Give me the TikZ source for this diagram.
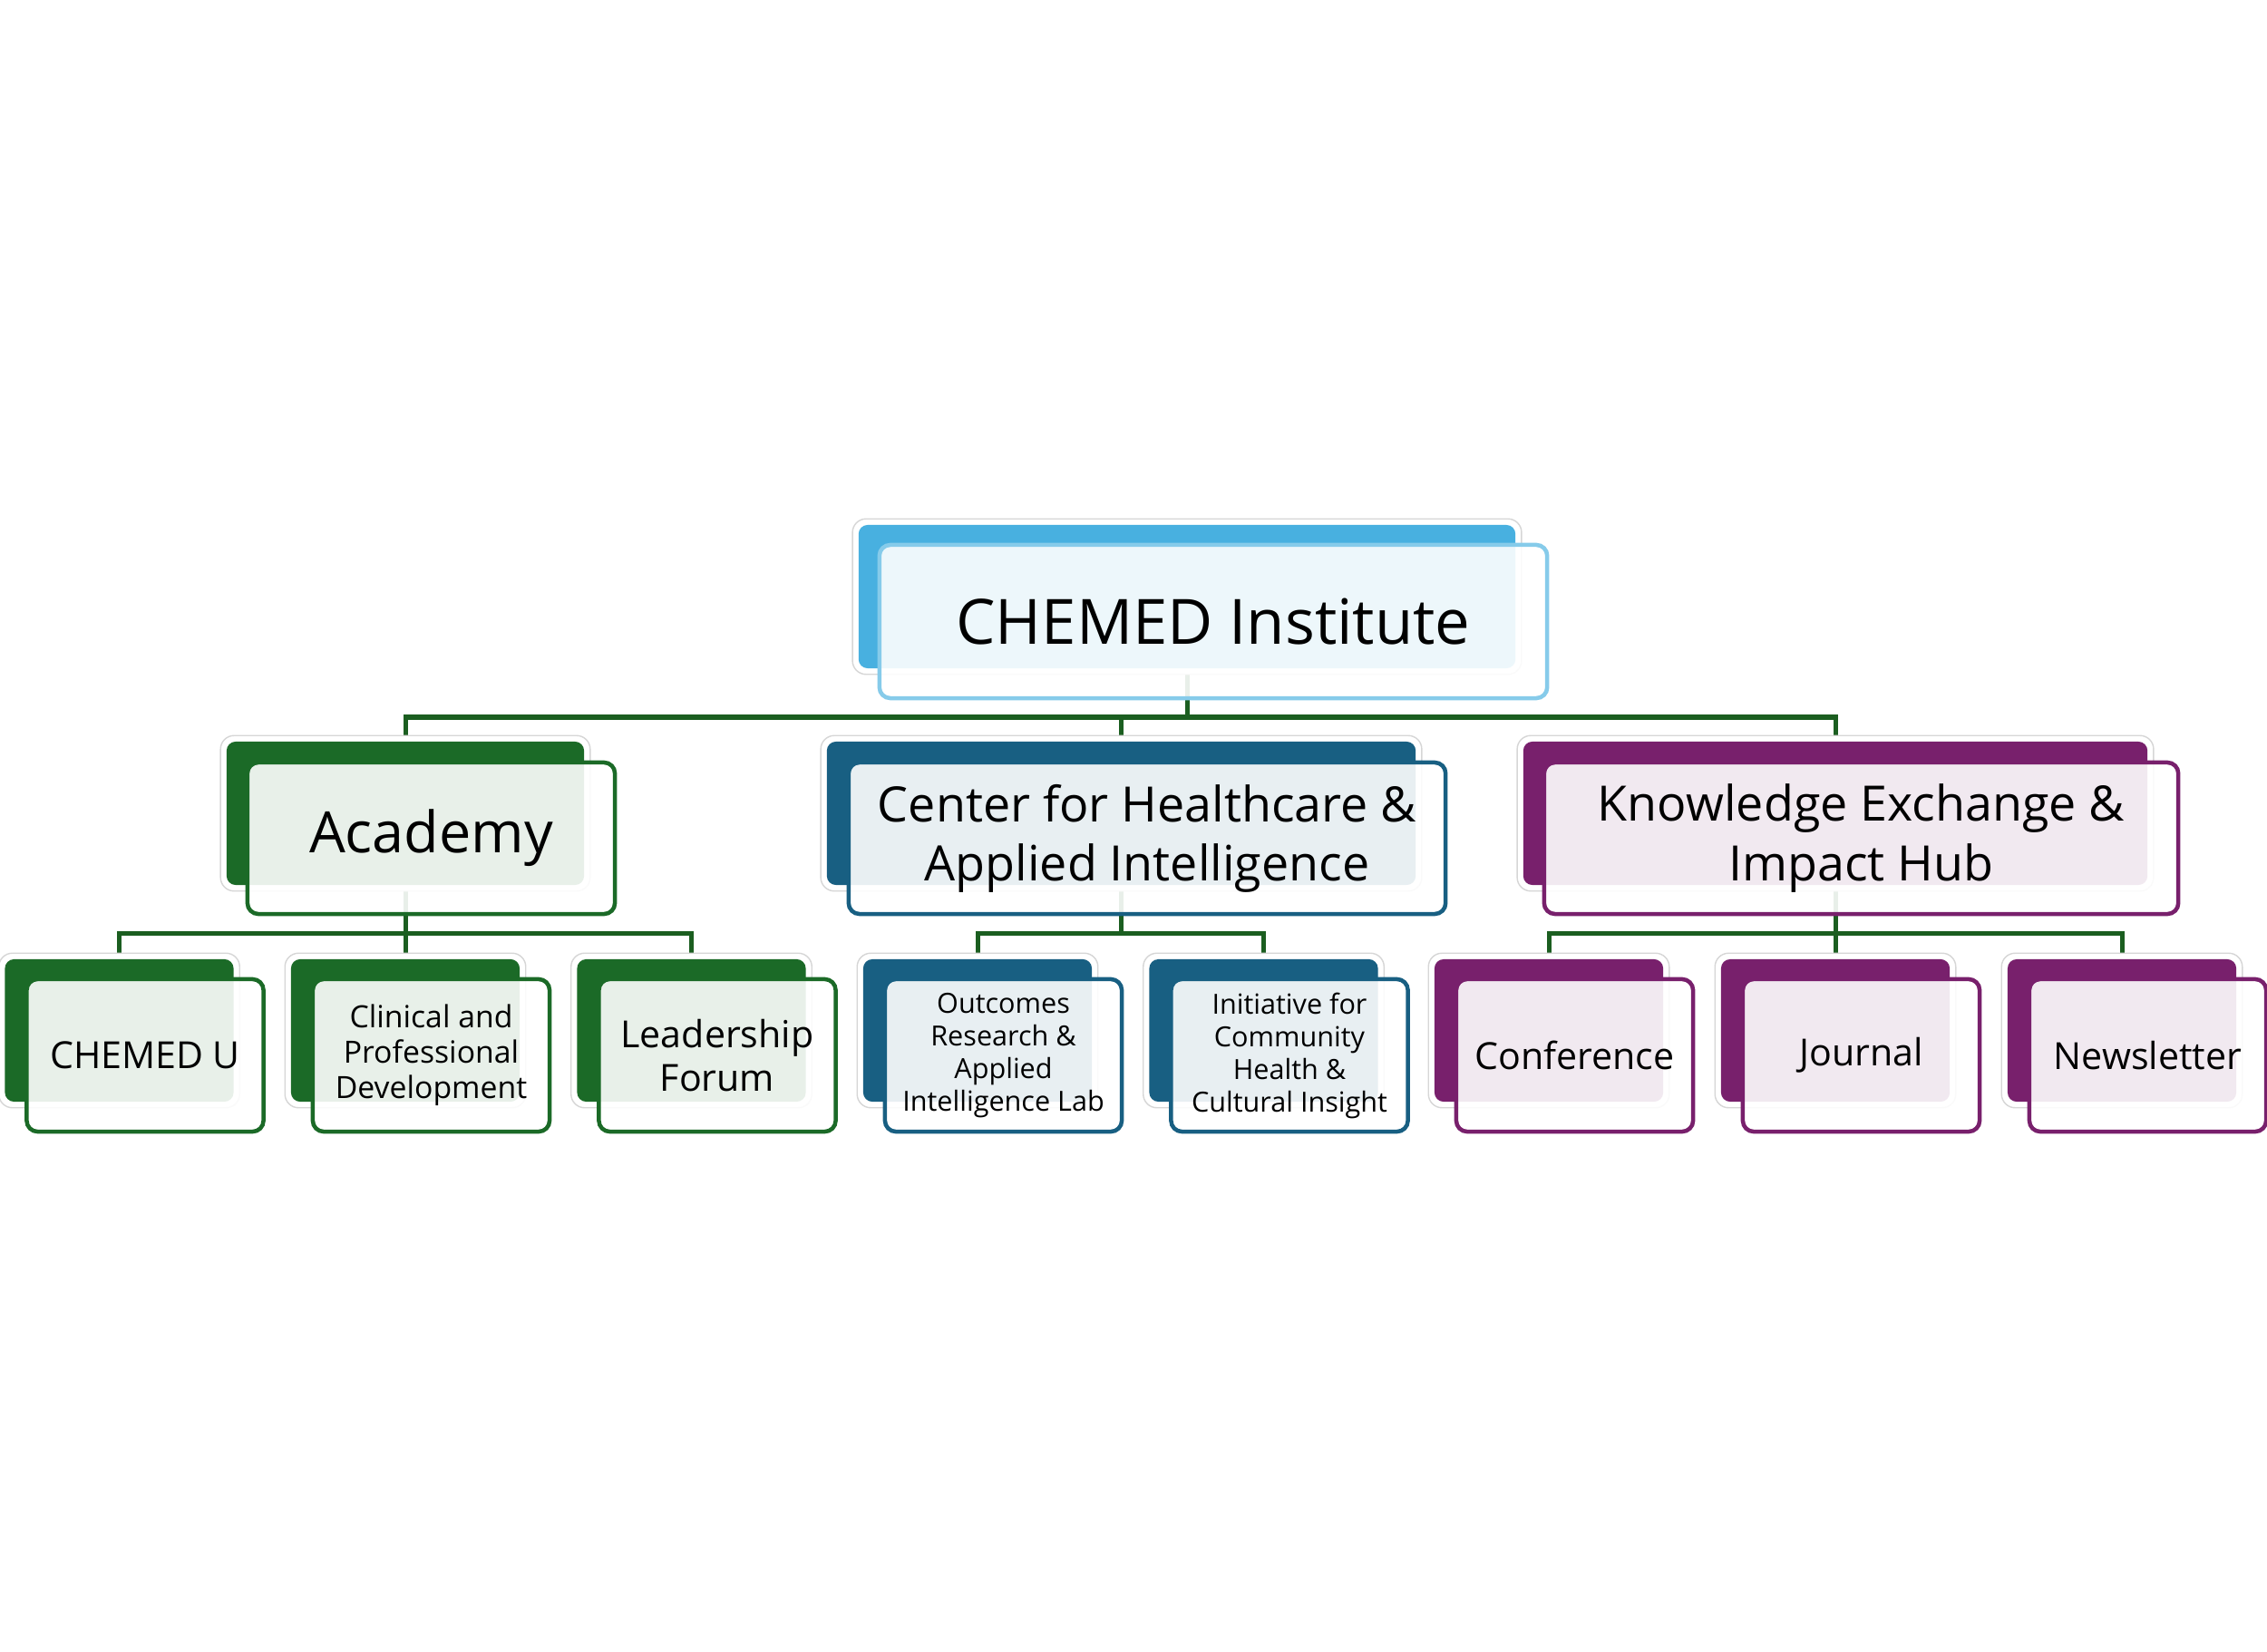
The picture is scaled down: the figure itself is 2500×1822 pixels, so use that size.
\documentclass[tikz,border=0pt]{standalone}
\usepackage{fontspec}
\setmainfont{Open Sans}
\usetikzlibrary{calc,backgrounds}
\definecolor{skyB}{RGB}{72,176,224}
\definecolor{skyF}{RGB}{134,203,234}
\definecolor{grnB}{RGB}{27,106,39}
\definecolor{grnC}{RGB}{27,94,32}
\definecolor{tealB}{RGB}{24,95,130}
\definecolor{plumB}{RGB}{120,32,108}
\begin{document}
\begin{tikzpicture}[x=0.01cm,y=-0.01cm,
  backbox/.style={rounded corners=0.1cm, inner sep=0pt, minimum height=1.58cm},
  childback/.style={backbox, minimum width=2.52cm, minimum height=1.57cm},
  frontbox/.style={rounded corners=0.12cm, inner sep=0pt, fill=white, fill opacity=0.9,
     text opacity=1, draw opacity=1, line width=0.045cm, align=center, text=black,
     minimum height=1.67cm},
  childfront/.style={frontbox, minimum width=2.61cm, minimum height=1.68cm},
  conn/.style={draw=grnC, line width=0.05cm},
  glow/.style={draw=black!16, line width=0.4pt, fill=white, rounded corners=0.15cm},
  fTop/.style={font=\fontsize{19.6}{23}\selectfont},
  fAca/.style={font=\fontsize{17.9}{21}\selectfont},
  fMid/.style={font=\fontsize{15.3}{18.5}\selectfont},
  fKid/.style={font=\fontsize{11.7}{13.66}\selectfont},
  fSmall/.style={font=\fontsize{9.6}{11.1}\selectfont},
  fTiny/.style={font=\fontsize{8.7}{10.24}\selectfont}]
\useasboundingbox (0,0) rectangle (2500,1822);
% ---- top
\node[backbox, fill=skyB, minimum width=7.24cm] (topB) at (1309,658) {};
\node[frontbox, draw=skyF, minimum width=7.36cm, minimum height=1.69cm, fTop] (topF) at ($(topB.center)+(29,27.5)$) {CHEMED Institute};
% ---- level 1
\node[backbox, fill=grnB, minimum width=3.94cm] (acaB) at (447,897) {};
\node[frontbox, draw=grnB, minimum width=4.05cm, fAca] (acaF) at ($(acaB.center)+(28.5,27.5)$) {Academy};
\node[backbox, fill=tealB, minimum width=6.49cm] (cenB) at (1236.5,897) {};
\node[frontbox, draw=tealB, minimum width=6.58cm, fMid] (cenF) at ($(cenB.center)+(28.5,27.5)$) {Center for Healthcare \&\\Applied Intelligence};
\node[backbox, fill=plumB, minimum width=6.88cm] (kexB) at (2024,897) {};
\node[frontbox, draw=plumB, minimum width=6.99cm, fMid] (kexF) at ($(kexB.center)+(28.5,27.5)$) {Knowledge Exchange \&\\Impact Hub};
% ---- children
\node[childback, fill=grnB] (c1B) at (131.5,1136.5) {};
\node[childfront, draw=grnB, fKid] (c1F) at ($(c1B.center)+(28.5,27.5)$) {CHEMED U};
\node[childback, fill=grnB] (c2B) at (447,1136.5) {};
\node[childfront, draw=grnB, fSmall] (c2F) at ($(c2B.center)+(28.5,27.5)$) {Clinical and\\Professional\\Development};
\node[childback, fill=grnB] (c3B) at (762.5,1136.5) {};
\node[childfront, draw=grnB, fKid] (c3F) at ($(c3B.center)+(28.5,27.5)$) {Leadership\\Forum};
\node[childback, fill=tealB] (c4B) at (1078,1136.5) {};
\node[childfront, draw=tealB, fTiny] (c4F) at ($(c4B.center)+(28.5,27.5)$) {Outcomes\\Research \&\\Applied\\Intelligence Lab};
\node[childback, fill=tealB] (c5B) at (1393.5,1136.5) {};
\node[childfront, draw=tealB, fTiny] (c5F) at ($(c5B.center)+(28.5,27.5)$) {Initiative for\\Community\\Health \&\\Cultural Insight};
\node[childback, fill=plumB] (c6B) at (1708,1136.5) {};
\node[childfront, draw=plumB, fKid] (c6F) at ($(c6B.center)+(28.5,27.5)$) {Conference};
\node[childback, fill=plumB] (c7B) at (2024,1136.5) {};
\node[childfront, draw=plumB, fKid] (c7F) at ($(c7B.center)+(28.5,27.5)$) {Journal};
\node[childback, fill=plumB] (c8B) at (2340,1136.5) {};
\node[childfront, draw=plumB, fKid] (c8F) at ($(c8B.center)+(28.5,27.5)$) {Newsletter};
% ---- background: white page, connectors, glows
\begin{pgfonlayer}{background}
\fill[white] (0,0) rectangle (2500,1822);
\coordinate (busA) at (0,791);
\coordinate (busB) at (0,1029);
\draw[conn] (topB.center) -- (topB.center |- busA) -| (acaB.center);
\draw[conn] (topB.center) -- (topB.center |- busA) -| (cenB.center);
\draw[conn] (topB.center) -- (topB.center |- busA) -| (kexB.center);
\foreach \p/\c in {acaB/c1B,acaB/c2B,acaB/c3B,cenB/c4B,cenB/c5B,kexB/c6B,kexB/c7B,kexB/c8B}{
  \draw[conn] (\p.center) -- (\p.center |- busB) -| (\c.center);
}
\foreach \b in {topB,acaB,cenB,kexB,c1B,c2B,c3B,c4B,c5B,c6B,c7B,c8B}{
  \draw[glow] ([shift={(-6,-6)}]\b.north west) rectangle ([shift={(6,6)}]\b.south east);
}
\end{pgfonlayer}
\end{tikzpicture}
\end{document}
